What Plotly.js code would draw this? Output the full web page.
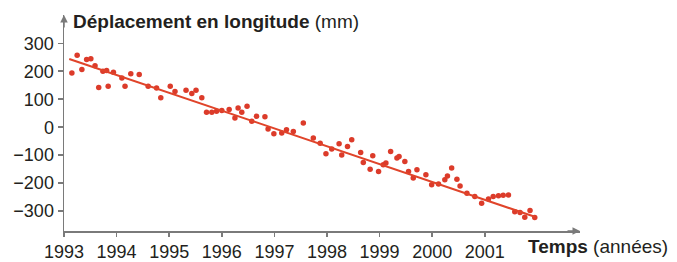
<!DOCTYPE html>
<html>
<head>
<meta charset="utf-8">
<script src="https://cdn.plot.ly/plotly-3.0.1.min.js"></script>
<style>html,body{margin:0;padding:0;background:#fff;}#chart{width:677px;height:262px;}</style>
</head>
<body>
<div id="chart"></div>
<script>
// Observed data (years, mm)
const years = [1993.15,1993.25,1993.34,1993.43,1993.51,1993.59,1993.66,1993.74,1993.81,1993.84,1993.94,
  1994.10,1994.16,1994.27,1994.43,1994.60,1994.76,1994.84,1995.02,1995.11,1995.32,1995.43,1995.51,1995.62,
  1995.71,1995.81,1995.90,1996.00,1996.14,1996.25,1996.31,1996.38,1996.48,1996.57,1996.66,1996.82,1996.88,
  1996.99,1997.14,1997.23,1997.36,1997.55,1997.74,1997.87,1997.98,1998.09,1998.23,1998.28,1998.39,1998.47,
  1998.64,1998.69,1998.82,1998.87,1998.98,1999.07,1999.12,1999.21,1999.33,1999.37,1999.48,1999.55,1999.64,
  1999.71,1999.88,1999.99,2000.12,2000.24,2000.29,2000.37,2000.47,2000.53,2000.66,2000.81,2000.94,2001.07,
  2001.16,2001.26,2001.35,2001.45,2001.57,2001.67,2001.76,2001.86,2001.95];
const displacement = [194,257,206,242,245,220,142,200,203,146,196,
  176,146,191,188,146,140,105,146,128,132,120,132,105,
  53,53,57,60,63,33,69,53,75,21,39,37,-6,
  -23,-21,-9,-15,15,-39,-57,-95,-78,-59,-99,-69,-45,
  -90,-126,-150,-102,-158,-134,-128,-87,-110,-105,-123,-158,-182,
  -152,-170,-206,-203,-188,-174,-146,-186,-210,-236,-248,-272,-257,
  -248,-245,-243,-242,-302,-305,-322,-298,-323];
// Trend line endpoints
const trendYears = [1993.1, 2001.95];
const trendValues = [244, -320];
const xTickVals = [1993,1994,1995,1996,1997,1998,1999,2000,2001];
const xTickText = ['1993','1994','1995','1996','1997','1998','1999','2000','2001'];
const yTickVals = [-300,-200,-100,0,100,200,300];

const red = '#dc3b2a';
const axisCol = '#7a7a7a';
const font = 'Liberation Sans, Arial, sans-serif';
const textCol = '#231f20';

const traces = [
  {x: years, y: displacement, mode: 'markers', type: 'scatter',
   marker: {color: red, size: 5.5}, hoverinfo: 'skip'},
  {x: trendYears, y: trendValues, mode: 'lines', type: 'scatter',
   line: {color: '#e0442a', width: 2}, hoverinfo: 'skip'}
];

const layout = {
  width: 677, height: 262,
  margin: {l: 64, r: 97, t: 15, b: 31, pad: 0},
  paper_bgcolor: '#fff', plot_bgcolor: '#fff',
  showlegend: false,
  font: {family: font, size: 18, color: textCol},
  xaxis: {range: [1993, 2002.81], tickvals: xTickVals, ticktext: xTickText,
    showgrid: false, zeroline: false, showline: true, linecolor: axisCol, linewidth: 1.5,
    ticks: 'outside', ticklen: 4, tickcolor: axisCol, tickwidth: 1.5,
    tickfont: {family: font, size: 18, color: textCol}, fixedrange: true},
  yaxis: {range: [-371, 401], tickvals: yTickVals,
    showgrid: false, zeroline: false, showline: true, linecolor: axisCol, linewidth: 1.5,
    ticks: 'outside', ticklen: 5, tickcolor: axisCol, tickwidth: 1.5,
    tickfont: {family: font, size: 18, color: textCol}, fixedrange: true},
  annotations: [
    {xref: 'paper', yref: 'paper', x: 0, y: 1, ax: 0, ay: 14,
     text: '', showarrow: true, arrowhead: 2, arrowsize: 1, arrowwidth: 1.5, arrowcolor: axisCol},
    {xref: 'paper', yref: 'paper', x: 1, y: 0, ax: -14, ay: 0,
     text: '', showarrow: true, arrowhead: 2, arrowsize: 1, arrowwidth: 1.5, arrowcolor: axisCol},
    {xref: 'paper', yref: 'paper', x: 0, y: 1, xanchor: 'left', yanchor: 'middle',
     xshift: 7, yshift: -6, showarrow: false,
     text: '<b>Déplacement en longitude</b> (mm)',
     font: {family: font, size: 19, color: textCol}},
    {xref: 'paper', yref: 'paper', x: 1, y: 0, xanchor: 'left', yanchor: 'middle',
     xshift: -54, yshift: -15, showarrow: false,
     text: '<b>Temps</b> (années)',
     font: {family: font, size: 19, color: textCol}}
  ]
};

Plotly.newPlot('chart', traces, layout, {displayModeBar: false, staticPlot: true});
</script>
</body>
</html>
